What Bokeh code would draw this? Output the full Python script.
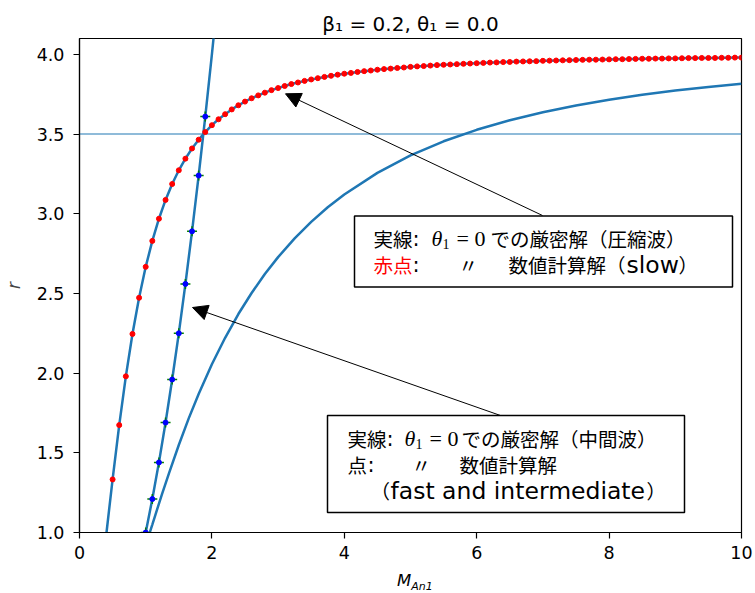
from bokeh.plotting import figure
from bokeh.layouts import column
from bokeh.models import Span, Label, Arrow, NormalHead, BoxAnnotation, FixedTicker, Range1d, Div
from bokeh.embed import file_html
from bokeh.resources import INLINE

# ---------------- data ----------------
title_text = "β₁ = 0.2, θ₁ = 0.0"
x_label_main, x_label_sub = "M", "An1"
y_label = "r"
x_ticks = [0, 2, 4, 6, 8, 10]
x_tick_labels = ["0", "2", "4", "6", "8", "10"]
y_ticks = [1.0, 1.5, 2.0, 2.5, 3.0, 3.5, 4.0]
y_tick_labels = ["1.0", "1.5", "2.0", "2.5", "3.0", "3.5", "4.0"]
ref_r = 3.5

# slow (compression) wave: numerical points (red) and exact curve
slow_x = [0.5, 0.6, 0.7, 0.8, 0.9, 1.0, 1.1, 1.2, 1.3, 1.4, 1.5, 1.6, 1.7, 1.8, 1.9,
          2.0, 2.1, 2.2, 2.3, 2.4, 2.5, 2.6, 2.7, 2.8, 2.9, 3.0, 3.1, 3.2, 3.3, 3.4,
          3.5, 3.6, 3.7, 3.8, 3.9, 4.0, 4.1, 4.2, 4.3, 4.4, 4.5, 4.6, 4.7, 4.8, 4.9,
          5.0, 5.1, 5.2, 5.3, 5.4, 5.5, 5.6, 5.7, 5.8, 5.9, 6.0, 6.1, 6.2, 6.3, 6.4,
          6.5, 6.6, 6.7, 6.8, 6.9, 7.0, 7.1, 7.2, 7.3, 7.4, 7.5, 7.6, 7.7, 7.8, 7.9,
          8.0, 8.1, 8.2, 8.3, 8.4, 8.5, 8.6, 8.7, 8.8, 8.9, 9.0, 9.1, 9.2, 9.3, 9.4,
          9.5, 9.6, 9.7, 9.8, 9.9, 10.0]
slow_r = [1.333, 1.674, 1.980, 2.246, 2.473, 2.667, 2.830, 2.969, 3.087, 3.187, 3.273,
          3.346, 3.410, 3.465, 3.513, 3.556, 3.593, 3.625, 3.655, 3.681, 3.704, 3.725,
          3.743, 3.760, 3.776, 3.789, 3.802, 3.814, 3.824, 3.834, 3.843, 3.851, 3.859,
          3.866, 3.873, 3.879, 3.884, 3.890, 3.895, 3.899, 3.904, 3.908, 3.911, 3.915,
          3.918, 3.922, 3.925, 3.927, 3.930, 3.933, 3.935, 3.937, 3.939, 3.941, 3.943,
          3.945, 3.947, 3.949, 3.950, 3.952, 3.953, 3.955, 3.956, 3.957, 3.958, 3.960,
          3.961, 3.962, 3.963, 3.964, 3.965, 3.966, 3.967, 3.967, 3.968, 3.969, 3.970,
          3.970, 3.971, 3.972, 3.973, 3.973, 3.974, 3.974, 3.975, 3.975, 3.976, 3.977,
          3.977, 3.978, 3.978, 3.978, 3.979, 3.979, 3.980, 3.980]
slow_line_x = [0.408, 0.45] + slow_x
slow_line_r = [1.0, 1.153] + slow_r

# intermediate wave: numerical points and exact curve
mid_x = [1.0, 1.1, 1.2, 1.3, 1.4, 1.5, 1.6, 1.7, 1.8, 1.9]
mid_r = [1.00, 1.21, 1.44, 1.69, 1.96, 2.25, 2.56, 2.89, 3.24, 3.61]
mid_line_x = mid_x + [2.0, 2.1]
mid_line_r = mid_r + [4.00, 4.41]

# fast wave exact curve
fast_x = [1.06, 1.1, 1.15, 1.25, 1.35, 1.5, 1.65, 1.8, 2.0, 2.2, 2.4, 2.6, 2.8, 3.0,
          3.25, 3.5, 3.75, 4.0, 4.5, 5.0, 5.5, 6.0, 6.5, 7.0, 7.5, 8.0, 8.5, 9.0,
          9.5, 10.0]
fast_r = [0.998, 1.050, 1.116, 1.245, 1.370, 1.549, 1.716, 1.869, 2.056, 2.222, 2.371,
          2.503, 2.622, 2.728, 2.846, 2.949, 3.041, 3.121, 3.257, 3.366, 3.455, 3.527,
          3.587, 3.637, 3.680, 3.716, 3.747, 3.773, 3.796, 3.816]

# ---------------- layout helpers (pixel -> data) ----------------
FX0, FY0, FW, FH = 79, 38, 662, 494
XMIN, XMAX, YMIN, YMAX = 0.0, 10.0, 1.0, 4.1


def dx(px):
    return XMIN + (px - FX0) * (XMAX - XMIN) / FW


def dy(py):
    return YMAX - (py - FY0) * (YMAX - YMIN) / FH


BLUE = "#1f77b4"

p = figure(frame_width=FW, frame_height=FH,
           min_border_left=FX0, min_border_right=12, min_border_top=FY0, min_border_bottom=33,
           x_range=Range1d(XMIN, XMAX), y_range=Range1d(YMIN, YMAX),
           output_backend="svg", toolbar_location=None, background_fill_color="white")

p.title.text = title_text
p.title.align = "center"
p.title.text_font = "DejaVu Sans"
p.title.text_font_size = "20px"
p.title.text_font_style = "normal"
p.title.text_color = "black"
p.title.standoff = 6

p.xgrid.visible = False
p.ygrid.visible = False
p.outline_line_color = "black"
p.outline_line_width = 1.2
p.outline_line_alpha = 1

p.xaxis.ticker = FixedTicker(ticks=x_ticks)
p.xaxis.major_label_overrides = {t: l for t, l in zip(x_ticks, x_tick_labels)}
p.yaxis.ticker = FixedTicker(ticks=y_ticks)
p.yaxis.major_label_overrides = {t: l for t, l in zip(y_ticks, y_tick_labels)}
for ax in (p.xaxis, p.yaxis):
    ax.axis_line_color = "black"
    ax.axis_line_width = 1.2
    ax.major_tick_line_color = "black"
    ax.major_tick_line_width = 1.2
    ax.major_tick_out = 6
    ax.major_tick_in = 0
    ax.minor_tick_line_color = None
    ax.major_label_text_font = "DejaVu Sans"
    ax.major_label_text_font_size = "17.5px"
    ax.major_label_text_color = "black"
p.xaxis.major_label_standoff = 7
p.yaxis.major_label_standoff = 9

p.yaxis.axis_label = y_label
p.yaxis.axis_label_text_font = "DejaVu Sans"
p.yaxis.axis_label_text_font_style = "italic"
p.yaxis.axis_label_text_font_size = "17px"
p.yaxis.axis_label_standoff = 10

# reference line
p.add_layout(Span(location=ref_r, dimension="width", line_color=BLUE, line_alpha=0.5,
                  line_width=2, level="underlay"))

# curves
p.line(slow_line_x, slow_line_r, line_color=BLUE, line_width=2.5)
p.line(mid_line_x, mid_line_r, line_color=BLUE, line_width=2.5)
p.line(fast_x, fast_r, line_color=BLUE, line_width=2.5)

# numerical points
p.scatter(slow_x, slow_r, marker="circle", size=5, fill_color="red", line_color="red")
p.scatter(mid_x, mid_r, marker="cross", size=10, line_color="green", line_width=1.5)
p.scatter(mid_x, mid_r, marker="circle", size=5, fill_color="blue", line_color="blue")

# arrows
p.add_layout(Arrow(x_start=dx(542), y_start=dy(215), x_end=dx(285), y_end=dy(93.3),
                   line_color="black", line_width=1,
                   end=NormalHead(size=15, fill_color="black", line_color="black")))
p.add_layout(Arrow(x_start=dx(500), y_start=dy(415), x_end=dx(192), y_end=dy(307),
                   line_color="black", line_width=1,
                   end=NormalHead(size=15, fill_color="black", line_color="black")))

# boxes
p.add_layout(BoxAnnotation(left=dx(354), right=dx(732), top=dy(215.5), bottom=dy(286.5),
                           fill_color="white", fill_alpha=1, line_color="black",
                           line_width=1.5, line_alpha=1))
p.add_layout(BoxAnnotation(left=dx(327), right=dx(684), top=dy(415), bottom=dy(512),
                           fill_color="white", fill_alpha=1, line_color="black",
                           line_width=1.5, line_alpha=1))

CJK = "Noto Sans CJK JP"
LAT = "DejaVu Sans"
MATH = "Liberation Serif"
CJK_SIZE = 19.5
LAT_SIZE = 23.5


def lab(px, py, text, size=CJK_SIZE, font=CJK, color="black", style="normal"):
    p.add_layout(Label(x=dx(px), y=dy(py), text=text, text_font=font,
                       text_font_size=f"{size}px", text_color=color,
                       text_font_style=style, text_baseline="middle", text_align="left"))


def math_theta(px, py):
    lab(px, py, "θ", 22, MATH, style="italic")
    lab(px + 11, py + 5, "1", 14, MATH)
    lab(px + 25, py, "= 0", 22, MATH)


# box 1
lab(373, 238, "実線")
lab(412, 238, ":", 21, LAT)
math_theta(431, 238)
lab(490, 238, "での厳密解（圧縮波）")
lab(373, 264, "赤点", color="red")
lab(412, 264, ":", 21, LAT)
lab(458, 264, "〃")
lab(508, 264, "数値計算解（")
lab(626, 264, "slow", LAT_SIZE, LAT)
lab(678, 264, "）")

# box 2
lab(347, 438, "実線")
lab(386, 438, ":", 21, LAT)
math_theta(404, 438)
lab(461, 438, "での厳密解（中間波）")
lab(347, 464, "点")
lab(367, 464, ":", 21, LAT)
lab(411, 464, "〃")
lab(459, 464, "数値計算解")
lab(370, 490, "（")
lab(390, 490, "fast and intermediate", LAT_SIZE, LAT)
lab(646, 490, "）")

# x-axis label (M with subscript An1) below the axis
xlabel = Div(
    text=(f'<div style="margin-left:392px;font-family:DejaVu Sans;font-size:16.5px;'
          f'font-style:italic;line-height:22px;color:black;">{x_label_main}'
          f'<sub style="font-size:11px;line-height:0;">{x_label_sub}</sub></div>'),
    width=600, height=28)

layout = column(p, xlabel, spacing=0)
open("out.html", "w").write(file_html(layout, INLINE))
